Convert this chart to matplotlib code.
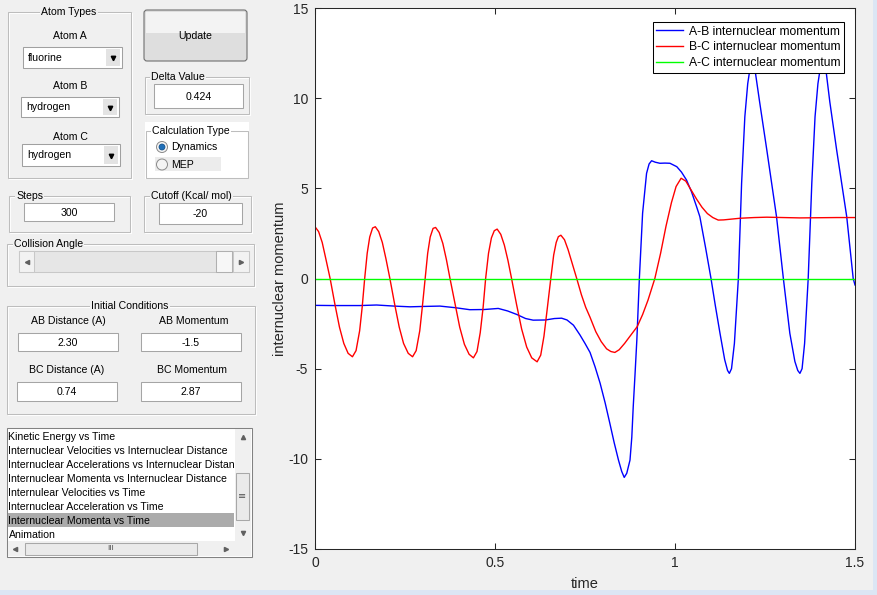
import matplotlib
matplotlib.use('Agg')
import matplotlib.pyplot as plt
from matplotlib.patches import Rectangle, FancyBboxPatch, Circle

plt.rcParams['font.family'] = ['Liberation Sans', 'DejaVu Sans']

#----------------------------------- DATA -----------------------------------
# B-C internuclear momentum (red)
red_t = [0.000, 0.010, 0.020, 0.030, 0.042, 0.055, 0.068, 0.080, 0.092, 0.104, 0.114, 0.124, 0.131,
         0.138, 0.145, 0.152, 0.160, 0.1675,
         0.177, 0.187, 0.197, 0.208, 0.221, 0.234, 0.246, 0.259, 0.271, 0.281, 0.291, 0.298,
         0.306, 0.313, 0.320, 0.328, 0.335,
         0.345, 0.355, 0.365, 0.375, 0.389, 0.402, 0.415, 0.428, 0.440, 0.450, 0.459, 0.467,
         0.474, 0.482, 0.490, 0.498, 0.506,
         0.516, 0.526, 0.536, 0.546, 0.560, 0.574, 0.588, 0.602, 0.617, 0.627, 0.636, 0.645,
         0.655, 0.663, 0.670, 0.676, 0.683,
         0.693, 0.703, 0.715, 0.727, 0.740, 0.752, 0.764, 0.780, 0.795, 0.810, 0.822, 0.833,
         0.845, 0.860, 0.875, 0.895, 0.910, 0.925, 0.944, 0.960, 0.975, 0.990, 1.003, 1.017,
         1.030, 1.045, 1.060, 1.075, 1.090, 1.105, 1.120, 1.135, 1.150, 1.180, 1.220, 1.255,
         1.300, 1.347, 1.400, 1.450, 1.500]
red_v = [2.87, 2.60, 2.00, 1.10, 0.00, -1.40, -2.70, -3.60, -4.15, -4.34, -4.00, -2.90, -1.60,
         0.00, 1.40, 2.30, 2.80, 2.87,
         2.60, 2.00, 1.10, 0.00, -1.40, -2.70, -3.60, -4.15, -4.34, -4.00, -2.90, -1.60,
         0.00, 1.40, 2.30, 2.78, 2.83,
         2.55, 1.95, 1.05, 0.00, -1.40, -2.70, -3.65, -4.20, -4.40, -4.05, -3.00, -1.60,
         0.00, 1.40, 2.25, 2.65, 2.74,
         2.45, 1.85, 1.00, 0.00, -1.45, -2.80, -3.80, -4.40, -4.62, -4.25, -3.20, -1.70,
         0.00, 1.30, 2.00, 2.32, 2.40,
         2.15, 1.60, 0.80, 0.00, -0.90, -1.60, -2.15, -2.95, -3.50, -3.90, -4.05, -4.10,
         -3.95, -3.60, -3.20, -2.67, -2.00, -1.20, 0.00, 1.40, 2.90, 4.20, 5.10, 5.56,
         5.40, 4.90, 4.40, 3.95, 3.60, 3.38, 3.24, 3.25, 3.28, 3.34, 3.38, 3.40,
         3.38, 3.36, 3.37, 3.38, 3.38]

# A-B internuclear momentum (blue)
blue_t = [0.000, 0.050, 0.100, 0.125, 0.171, 0.220, 0.264, 0.300, 0.347, 0.390, 0.430, 0.470,
          0.509, 0.535, 0.560, 0.585, 0.606, 0.640, 0.665, 0.685, 0.700, 0.718, 0.736, 0.750,
          0.764, 0.778, 0.792, 0.806, 0.819, 0.831, 0.843, 0.852, 0.859, 0.866, 0.875, 0.880,
          0.884, 0.889, 0.894, 0.901, 0.910, 0.921, 0.928, 0.935, 0.945, 0.958, 0.972, 0.986,
          1.005, 1.018, 1.032, 1.046, 1.060, 1.069, 1.085, 1.100, 1.112, 1.125, 1.138, 1.146,
          1.151, 1.157, 1.165, 1.176, 1.185, 1.194, 1.202, 1.208, 1.215, 1.222, 1.235, 1.255,
          1.282, 1.301, 1.319, 1.333, 1.341, 1.347, 1.353, 1.360, 1.370, 1.380, 1.389, 1.397,
          1.403, 1.410, 1.419, 1.430, 1.449, 1.477, 1.495, 1.500]
blue_v = [-1.49, -1.50, -1.50, -1.50, -1.47, -1.53, -1.57, -1.55, -1.53, -1.62, -1.73, -1.72,
          -1.66, -1.80, -1.99, -2.22, -2.31, -2.30, -2.22, -2.20, -2.30, -2.59, -3.13, -3.60,
          -4.10, -4.90, -5.81, -6.90, -8.03, -9.10, -10.07, -10.70, -11.03, -10.80, -10.07, -8.80,
          -7.10, -5.30, -3.41, 0.00, 3.62, 5.83, 6.35, 6.53, 6.45, 6.39, 6.40, 6.39,
          6.20, 5.90, 5.46, 4.80, 3.98, 3.43, 1.70, 0.00, -1.50, -3.04, -4.50, -5.10,
          -5.26, -5.00, -3.60, 0.00, 5.28, 8.97, 10.80, 11.60, 12.10, 11.60, 9.80, 7.13,
          3.43, 0.00, -3.04, -4.60, -5.10, -5.26, -5.00, -3.60, 0.00, 5.28, 8.97, 10.80,
          11.60, 12.10, 11.60, 9.80, 7.13, 3.43, 0.00, -0.36]

# A-C internuclear momentum (green)
ac_t = [0.0, 1.5]
ac_v = [0.0, 0.0]

series_labels = ['A-B internuclear momentum', 'B-C internuclear momentum', 'A-C internuclear momentum']
x_ticks = [0, 0.5, 1, 1.5]
x_ticklabels = ['0', '0.5', '1', '1.5']
y_ticks = [-15, -10, -5, 0, 5, 10, 15]

list_items = ['Kinetic Energy vs Time',
              'Internuclear Velocities vs Internuclear Distance',
              'Internuclear Accelerations vs Internuclear Distance',
              'Internuclear Momenta vs Internuclear Distance',
              'Internulear Velocities vs Time',
              'Internuclear Acceleration vs Time',
              'Internuclear Momenta vs Time',
              'Animation']
selected_item = 6

#----------------------------------- FIGURE + GUI PANEL -----------------------------------
W, H = 877, 595
BG = '#f0f0f0'
fig = plt.figure(figsize=(W / 100, H / 100), dpi=100, facecolor=BG)
g = fig.add_axes([0, 0, 1, 1])
g.set_xlim(0, W)
g.set_ylim(H, 0)
g.axis('off')

GUI_FS = 7.6


def box(x0, y0, x1, y1, fc='white', ec='#ababab', lw=0.75, z=1):
    p = Rectangle((x0, y0), x1 - x0, y1 - y0, facecolor=fc, edgecolor=ec, linewidth=lw, zorder=z)
    g.add_patch(p)
    return p


def label(x, y, s, ha='center', size=GUI_FS, z=3, color='black', **kw):
    return g.text(x, y, s, ha=ha, va='center', fontsize=size, color=color, zorder=z, **kw)


def arrow(x, y, m, z=3, ms=3.0, color='#606060'):
    g.plot(x, y, marker=m, ms=ms, color=color, zorder=z)


def panel(x0, y0, x1, y1, title, tx, ha='left'):
    box(x0 + 1, y0 + 1, x1 + 1, y1 + 1, fc='none', ec='white')
    box(x0, y0, x1, y1, fc='none', ec='#bdbdbd')
    label(tx, y0, title, ha=ha, bbox=dict(fc=BG, ec='none', pad=0.8))


def edit(x0, y0, x1, y1, s):
    box(x0, y0, x1, y1, fc='white', ec='#a5a5a5')
    label((x0 + x1) / 2, (y0 + y1) / 2 + 0.5, s)


def popup(x0, y0, x1, y1, s):
    box(x0, y0, x1, y1, fc='white', ec='#a0a0a0')
    box(x1 - 16, y0 + 2, x1 - 2, y1 - 2, fc='#e3e3e3', ec='none', z=2)
    arrow(x1 - 9, (y0 + y1) / 2 + 0.5, 'v', ms=3.2, color='black')
    label(x0 + 5, (y0 + y1) / 2 + 0.5, s, ha='left')


# light blue window strips
box(0, 590, W, H, fc='#dce6f4', ec='none', z=0)
box(873, 0, W, H, fc='#dce6f4', ec='none', z=0)

# Atom types
panel(8, 12, 131, 178, 'Atom Types', 69, ha='center')
label(70, 36, 'Atom A')
popup(23, 47, 122, 68, 'fluorine')
label(70, 86, 'Atom B')
popup(21, 97, 119, 117, 'hydrogen')
label(70, 137, 'Atom C')
popup(22, 144, 120, 166, 'hydrogen')

# Update button
g.add_patch(FancyBboxPatch((144, 10), 103, 51, boxstyle='round,pad=0,rounding_size=3',
                           facecolor='#dedede', edgecolor='#707070', linewidth=0.8, zorder=1))
box(146, 12, 245, 33, fc='#f3f3f3', ec='none', z=2)
label(195, 36, 'Update')

# Delta value
panel(145, 77, 249, 114, 'Delta Value', 151)
edit(154, 84, 243, 108, '0.424')

# Calculation type
box(145, 122, 249, 179, fc='white', ec='none', z=0)
box(146, 131, 248, 178, fc='none', ec='#bdbdbd')
label(152, 131, 'Calculation Type', ha='left', bbox=dict(fc='white', ec='none', pad=0.8))
box(155, 157, 221, 171, fc='#ececec', ec='none', z=1)
g.add_patch(Circle((162, 147), 5.5, facecolor='#f4f4f4', edgecolor='#8a8a8a', linewidth=0.7, zorder=2))
g.add_patch(Circle((162, 147), 3.0, facecolor='#1f6fb8', edgecolor='#0d4a85', linewidth=0.5, zorder=3))
label(171, 147, 'Dynamics', ha='left')
g.add_patch(Circle((162, 164.5), 5.5, facecolor='#f4f4f4', edgecolor='#8a8a8a', linewidth=0.7, zorder=2))
label(171, 164.5, 'MEP', ha='left')

# Steps / cutoff
panel(9, 196, 130, 232, 'Steps', 16)
edit(24, 203, 114, 221, '300')
panel(144, 196, 251, 232, 'Cutoff (Kcal/ mol)', 151)
edit(159, 203, 242, 224, '-20')

# Collision angle slider
panel(7, 244, 254, 286, 'Collision Angle', 14)
box(19, 251, 249, 272, fc='#e6e6e6', ec='#c8c8c8')
box(19, 251, 34, 272, fc='#f2f2f2', ec='#c8c8c8', z=2)
box(216, 251, 232, 272, fc='#f7f7f7', ec='#b0b0b0', z=2)
box(233, 251, 249, 272, fc='#f2f2f2', ec='#c8c8c8', z=2)
arrow(26.5, 261.5, '<')
arrow(241, 261.5, '>')

# Initial conditions
panel(7, 306, 255, 414, 'Initial Conditions', 130, ha='center')
label(68, 321, 'AB Distance (A)')
edit(18, 333, 118, 351, '2.30')
label(194, 321, 'AB Momentum')
edit(141, 333, 241, 351, '-1.5')
label(67, 370, 'BC Distance (A)')
edit(17, 382, 117, 401, '0.74')
label(192, 370, 'BC Momentum')
edit(141, 382, 241, 401, '2.87')

# List box
box(7, 428, 252, 557, fc='white', ec='#828282')
box(8, 513, 234, 527, fc='#ababab', ec='none', z=1)
for i, item in enumerate(list_items):
    label(8.5, 436.5 + 14 * i, item, ha='left')
# vertical scrollbar (drawn over the long items so they look cut off)
box(234.5, 428.6, 251.4, 541, fc='#f0f0f0', ec='none', z=4)
box(236, 473, 249, 520, fc='#eaeaea', ec='#a8a8a8', z=5)
label(242.5, 496, '≡', size=7, z=6, color='#555555', family='DejaVu Sans')
arrow(243, 437, '^', z=6)
arrow(243, 533, 'v', z=6)
# horizontal scrollbar
box(7.6, 541, 251.4, 556.4, fc='#f0f0f0', ec='none', z=4)
box(25, 543, 197, 555, fc='#eaeaea', ec='#a8a8a8', z=5)
label(111, 549, 'III', size=6, z=6, color='#555555')
arrow(15, 549, '<', z=6)
arrow(226, 549, '>', z=6)

#----------------------------------- THE PLOT -----------------------------------
AX_L, AX_R, AX_T, AX_B = 315, 855, 8, 549
ax = fig.add_axes([AX_L / W, 1 - AX_B / H, (AX_R - AX_L) / W, (AX_B - AX_T) / H])
ax.set_facecolor('white')

ax.plot(blue_t, blue_v, color='#0000ff', lw=1.0, label=series_labels[0])
ax.plot(red_t, red_v, color='#ff0000', lw=1.0, label=series_labels[1])
ax.plot(ac_t, ac_v, color='#00ff00', lw=1.0, label=series_labels[2])

ax.set_xlim(0, 1.5)
ax.set_ylim(-15, 15)
ax.set_xticks(x_ticks)
ax.set_xticklabels(x_ticklabels)
ax.set_yticks(y_ticks)
ax.set_yticklabels([str(v) for v in y_ticks])
ax.tick_params(direction='in', length=4, width=0.75, top=True, right=True, labelsize=10,
               colors='#262626', pad=5)
for s in ax.spines.values():
    s.set_color('#262626')
    s.set_linewidth(0.75)
ax.set_xlabel('time', fontsize=10.5, color='#262626', labelpad=5)
ax.set_ylabel('internuclear momentum', fontsize=10.5, color='#262626', labelpad=0.5)

leg = ax.legend(loc='upper right', bbox_to_anchor=(844 / W, 1 - 22 / H), bbox_transform=fig.transFigure,
                borderaxespad=0, fontsize=8.7, fancybox=False, framealpha=1, edgecolor='black',
                handlelength=2.2, handletextpad=0.5, labelspacing=0.3, borderpad=0.3)
leg.get_frame().set_linewidth(0.75)

fig.savefig('out.png', dpi=100, facecolor=BG)
